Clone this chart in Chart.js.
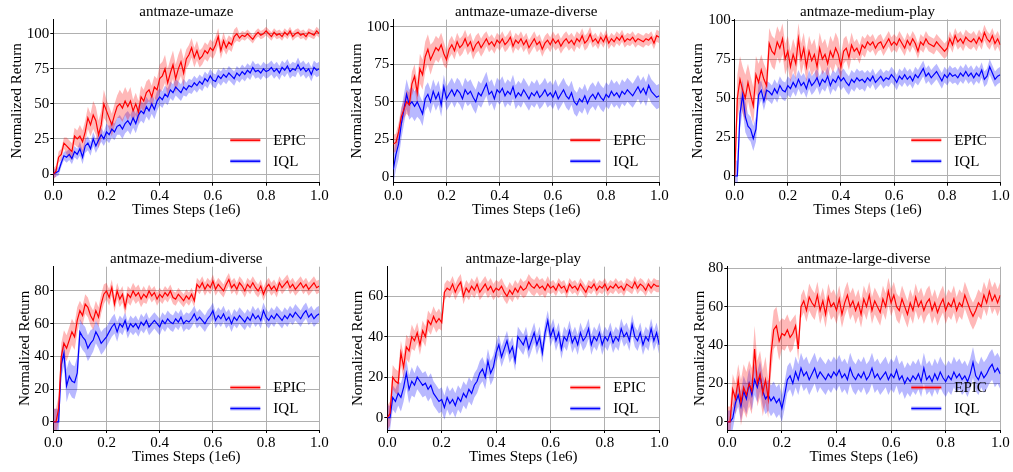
<!DOCTYPE html>
<html>
<head>
<meta charset="utf-8">
<script src="https://cdn.jsdelivr.net/npm/chart.js@4.4.0/dist/chart.umd.min.js"></script>
<style>
    html, body { margin: 0; padding: 0; background: #fff; }
    body { width: 1013px; height: 472px; position: relative; overflow: hidden; }
    canvas { position: absolute; }
</style>
</head>
<body>
<canvas id="c0"></canvas>
<canvas id="c1"></canvas>
<canvas id="c2"></canvas>
<canvas id="c3"></canvas>
<canvas id="c4"></canvas>
<canvas id="c5"></canvas>
<script>
// tick labels
const xTicks = [0, 0.2, 0.4, 0.6, 0.8, 1.0];
const yTicks100 = [0, 25, 50, 75, 100];
const yTicks80 = [0, 20, 40, 60, 80];
const yTicks60 = [0, 20, 40, 60];
const titles = ['antmaze-umaze', 'antmaze-umaze-diverse', 'antmaze-medium-play',
                'antmaze-medium-diverse', 'antmaze-large-play', 'antmaze-large-diverse'];

// mean returns, one value every 0.01e6 steps (101 values)
const umazeEpic = [0,2,12,14,22,20,18,16,27,25, 27,23,30,40,35,42,38,28,35,50, 45,40,35,42,48,50,47,52,48,52,
    45,50,44,55,52,58,60,55,62,60, 68,70,75,65,72,78,68,75,80,72, 82,85,90,83,88,82,84,88,86,90,
    88,92,98,88,95,90,94,92,98,100, 97,99,98,100,98,96,99,101,99,100, 102,100,98,101,99,100,98,101,99,102,
    98,100,101,99,100,98,101,100,99,102,100];
const umazeIql = [0,1,2,8,13,12,14,11,16,14, 18,12,20,22,18,25,20,24,28,25, 30,28,32,30,34,35,32,36,38,35,
    40,36,42,45,43,48,45,50,46,52, 55,53,57,55,60,58,62,60,58,62, 60,63,62,65,63,66,64,68,66,70,
    67,66,70,68,71,69,72,70,68,72, 70,73,71,74,72,76,73,74,72,75, 73,74,76,73,75,72,76,74,77,73,
    75,74,78,74,76,73,75,71,76,74,75];

const umazeDivEpic = [22,23,30,40,45,50,48,62,67,56, 72,68,80,85,78,82,86,84,88,82, 78,85,88,84,90,86,88,92,87,90,
    84,88,90,86,89,92,88,90,87,91, 89,92,88,90,93,87,91,89,92,88, 91,86,89,92,88,90,85,89,91,88,
    92,89,91,87,90,92,89,91,88,92, 90,94,89,91,95,90,92,89,93,90, 94,89,92,90,93,91,94,90,92,91,
    93,90,92,91,90,92,91,93,89,94,93];
const umazeDivIql = [5,15,22,35,45,55,48,50,47,50, 46,42,52,55,50,57,52,56,48,60, 52,55,58,54,58,56,52,58,55,57,
    53,50,56,54,58,62,55,57,52,58, 56,59,54,57,55,60,53,56,54,58, 55,52,56,54,57,53,55,58,54,56,
    53,57,52,55,58,54,52,56,50,48, 52,50,54,49,53,55,52,56,53,51, 55,53,57,54,56,53,57,55,58,56,
    54,57,60,56,59,55,61,57,55,53,54];

const mediumPlayEpic = [0,50,62,55,50,60,52,45,65,60, 68,62,58,85,80,78,86,82,88,75, 80,70,78,72,88,75,82,70,80,74,
    78,70,82,75,78,72,80,76,82,78, 70,80,82,76,84,80,82,78,84,82, 86,84,86,82,85,86,82,85,88,84,
    86,84,88,85,82,87,84,88,85,80, 86,84,88,85,84,83,86,84,82,80, 82,88,84,90,86,88,85,89,87,86,
    88,85,89,86,92,88,86,90,85,88,84];
const mediumPlayIql = [0,0,40,52,38,32,30,24,30,52, 55,48,55,54,52,56,53,58,55,54, 58,56,60,57,62,58,60,56,62,58,
    60,63,58,62,60,64,58,62,60,64, 61,63,60,58,62,60,63,61,62,60, 63,61,64,60,62,64,61,63,62,65,
    63,60,64,62,65,62,64,61,65,63, 66,69,64,66,63,65,67,64,61,65, 63,66,64,65,63,66,64,67,64,66,
    63,66,64,68,62,64,70,66,62,64,65];

const mediumDivEpic = [0,0,8,40,48,45,50,55,52,62, 68,65,72,70,65,62,68,64,72,78, 80,76,82,72,80,75,78,70,78,76,
    80,77,79,75,78,76,80,77,79,75, 78,76,79,77,80,76,75,78,76,74, 77,75,78,74,84,82,85,81,84,82,
    86,81,84,82,80,84,87,82,84,81, 85,83,80,84,82,85,82,80,83,78, 82,84,81,83,80,85,82,84,86,82,
    84,81,83,85,82,84,81,83,85,82,83];
const mediumDivIql = [0,0,0,35,42,22,28,25,24,30, 55,52,50,45,48,50,55,52,48,50, 52,55,58,60,55,60,58,62,56,60,
    58,60,57,61,59,62,58,60,62,60, 58,62,60,63,61,60,63,61,64,60, 62,61,63,66,62,64,62,60,63,65,
    68,62,65,63,66,62,64,60,64,62, 65,63,61,64,62,66,63,65,62,68, 64,62,65,63,66,64,62,65,63,66,
    64,67,65,63,66,68,64,66,63,65,66];

const largePlayEpic = [0,2,20,18,17,32,25,35,33,40, 38,42,36,43,40,48,46,50,47,49, 47,62,64,63,66,62,65,67,60,64,
    62,65,63,66,62,64,66,63,65,62, 64,63,65,62,60,63,61,64,62,65, 63,64,67,65,64,66,64,65,63,66,
    64,65,63,66,64,65,62,66,64,65, 63,66,64,62,65,64,66,63,65,64, 66,63,65,64,66,64,65,63,66,65,
    64,67,64,66,65,63,66,64,66,65,65];
const largePlayIql = [0,0,10,8,12,10,15,22,14,18, 16,20,18,16,17,14,16,12,10,8, 9,5,10,7,9,6,10,8,12,10,
    14,12,16,18,22,24,20,28,22,25, 32,36,30,34,38,32,35,28,40,38, 36,40,34,38,42,36,40,32,42,48,
    40,44,38,42,34,40,38,43,37,40, 36,42,38,40,44,36,40,38,42,36, 40,38,42,37,40,38,44,40,42,38,
    46,40,38,42,36,40,38,44,38,42,36];

const largeDivEpic = [0,0,17,12,22,10,18,14,20,16, 38,20,25,15,22,12,35,48,50,42, 46,45,48,44,46,50,38,60,63,58,
    65,62,60,66,58,63,56,65,60,62, 58,64,56,62,66,60,63,58,62,56, 64,60,66,58,63,60,57,64,60,68,
    62,66,60,58,64,60,56,62,58,65, 60,63,58,62,64,58,62,57,61,64, 58,62,60,64,58,62,60,66,62,58,
    55,58,62,60,66,62,68,63,66,62,66];
const largeDivIql = [0,0,2,10,14,8,16,12,20,14, 22,18,24,16,12,14,11,13,10,12, 7,14,22,24,20,26,22,28,24,26,
    22,25,28,23,26,24,22,25,23,26, 24,27,23,25,22,28,24,22,25,23, 26,22,24,28,23,25,22,24,26,22,
    25,23,27,22,24,20,23,21,24,22, 25,21,28,22,24,21,25,22,26,23, 21,24,22,26,23,25,22,24,21,25,
    31,24,22,26,23,25,28,30,26,28,25];

// half-width of the shaded band, one value per 0.05e6 steps (21 values)
const umazeEpicBand = [4,6,8,10,8,10,8,8,10,10,7,6,6,5,3,3,3,3,3,3,3];
const umazeIqlBand = [3,4,5,5,6,7,7,7,6,6,5,5,5,5,5,5,5,5,5,5,5];
const umazeDivEpicBand = [6,8,10,8,6,6,6,5,5,5,5,5,5,5,5,4,4,4,4,4,4];
const umazeDivIqlBand = [10,10,8,8,8,8,8,8,8,8,8,8,8,8,8,8,8,8,8,8,8];
const mediumPlayEpicBand = [15,12,10,10,10,10,10,10,8,6,5,5,5,5,5,5,5,5,5,5,5];
const mediumPlayIqlBand = [10,8,6,6,6,6,6,6,6,6,5,5,5,5,5,5,5,5,5,5,5];
const mediumDivEpicBand = [8,8,6,6,5,5,5,4,4,4,4,4,4,4,4,4,4,4,4,4,4];
const mediumDivIqlBand = [8,10,8,7,6,5,5,5,5,5,5,5,5,5,5,5,5,5,5,5,5];
const largePlayEpicBand = [6,6,5,5,4,4,4,4,4,4,4,4,3,3,3,3,3,3,3,3,3];
const largePlayIqlBand = [6,7,6,6,6,6,6,6,5,5,5,5,5,5,5,5,5,5,5,5,5];
const largeDivEpicBand = [8,12,12,10,8,6,7,7,7,7,7,7,7,7,7,7,7,7,7,7,7];
const largeDivIqlBand = [6,8,8,8,7,8,8,8,8,8,8,8,8,8,8,8,8,8,8,8,8];

const steps = umazeEpic.map((_, i) => i / 100);

const FONT = '"Liberation Serif", "Times New Roman", serif';
const RED = '#ff0000';
const BLUE = '#0000ff';
const RED_FILL = 'rgba(255, 0, 0, 0.28)';
const BLUE_FILL = 'rgba(0, 0, 255, 0.28)';

// plot rect is [left, top, right, bottom] in page pixels
const panels = [
    { epic: umazeEpic, epicBand: umazeEpicBand, iql: umazeIql, iqlBand: umazeIqlBand,
      yMin: -6.2, yMax: 110.3, yTicks: yTicks100, left: 0, top: 0, width: 333, plot: [53.3, 19.3, 319.3, 182.7], labelGap: 36.6 },
    { epic: umazeDivEpic, epicBand: umazeDivEpicBand, iql: umazeDivIql, iqlBand: umazeDivIqlBand,
      yMin: -3.8, yMax: 104.7, yTicks: yTicks100, left: 340, top: 0, width: 333, plot: [393.3, 19.6, 659.3, 182.7], labelGap: 36.6 },
    { epic: mediumPlayEpic, epicBand: mediumPlayEpicBand, iql: mediumPlayIql, iqlBand: mediumPlayIqlBand,
      yMin: -4.3, yMax: 100.5, yTicks: yTicks100, left: 673, top: 0, width: 340, plot: [734.7, 19.3, 1000.3, 182.7], labelGap: 36.7 },
    { epic: mediumDivEpic, epicBand: mediumDivEpicBand, iql: mediumDivIql, iqlBand: mediumDivIqlBand,
      yMin: -4.9, yMax: 94.8, yTicks: yTicks80, left: 0, top: 236, width: 333, plot: [53.3, 266.7, 319.3, 430], labelGap: 28.3 },
    { epic: largePlayEpic, epicBand: largePlayEpicBand, iql: largePlayIql, iqlBand: largePlayIqlBand,
      yMin: -6.1, yMax: 74.6, yTicks: yTicks60, left: 340, top: 236, width: 333, plot: [387.3, 266.7, 659.3, 430], labelGap: 29 },
    { epic: largeDivEpic, epicBand: largeDivEpicBand, iql: largeDivIql, iqlBand: largeDivIqlBand,
      yMin: -4.2, yMax: 80.8, yTicks: yTicks80, left: 673, top: 236, width: 340, plot: [727.3, 266.7, 1000.3, 430], labelGap: 27.6 }
];
const PANEL_H = 236;

function toPoints(vals) {
    return vals.map((v, i) => ({ x: steps[i], y: v }));
}

function bandPoints(vals, spread, sign) {
    return vals.map((v, i) => ({ x: steps[i], y: v + sign * spread[Math.floor(i / 5)] }));
}

// title, axis labels and legend drawn at fixed offsets from the plot area
const panelText = {
    id: 'panelText',
    afterDraw(chart, args, opts) {
        const ctx = chart.ctx;
        const a = chart.chartArea;
        const cx = (a.left + a.right) / 2;
        ctx.save();
        ctx.fillStyle = '#000';
        ctx.font = '15px ' + FONT;
        ctx.textAlign = 'center';
        ctx.textBaseline = 'middle';
        ctx.fillText(opts.title, cx, a.top - 7.5);
        ctx.fillText('Times Steps (1e6)', cx, a.bottom + 27);

        ctx.save();
        ctx.translate(a.left - opts.labelGap, (a.top + a.bottom) / 2);
        ctx.rotate(-Math.PI / 2);
        ctx.fillText('Normalized Return', 0, 0);
        ctx.restore();

        const items = [['EPIC', RED, RED_FILL, a.bottom - 42.5], ['IQL', BLUE, BLUE_FILL, a.bottom - 21.5]];
        items.forEach(([name, col, fill, y]) => {
            ctx.fillStyle = fill;
            ctx.fillRect(a.right - 89, y - 2, 30, 4);
            ctx.strokeStyle = col;
            ctx.lineWidth = 1.5;
            ctx.beginPath();
            ctx.moveTo(a.right - 89, y);
            ctx.lineTo(a.right - 59, y);
            ctx.stroke();
            ctx.fillStyle = '#000';
            ctx.textAlign = 'left';
            ctx.fillText(name, a.right - 46, y + 1);
        });
        ctx.restore();
    }
};

panels.forEach((p, k) => {
    const canvas = document.getElementById('c' + k);
    canvas.width = p.width;
    canvas.height = PANEL_H;
    canvas.style.left = p.left + 'px';
    canvas.style.top = p.top + 'px';
    canvas.style.width = p.width + 'px';
    canvas.style.height = PANEL_H + 'px';

    const [L, T, R, B] = p.plot;
    const band = { borderWidth: 0, pointRadius: 0, tension: 0 };

    new Chart(canvas, {
        type: 'line',
        data: {
            datasets: [
                Object.assign({ data: bandPoints(p.epic, p.epicBand, -1), fill: false, order: 3 }, band),
                Object.assign({ data: bandPoints(p.epic, p.epicBand, 1), fill: '-1', backgroundColor: RED_FILL, order: 3 }, band),
                Object.assign({ data: bandPoints(p.iql, p.iqlBand, -1), fill: false, order: 4 }, band),
                Object.assign({ data: bandPoints(p.iql, p.iqlBand, 1), fill: '-1', backgroundColor: BLUE_FILL, order: 4 }, band),
                { label: 'EPIC', data: toPoints(p.epic), borderColor: RED, borderWidth: 1.2, pointRadius: 0, tension: 0, fill: false, order: 1 },
                { label: 'IQL', data: toPoints(p.iql), borderColor: BLUE, borderWidth: 1.2, pointRadius: 0, tension: 0, fill: false, order: 2 }
            ]
        },
        options: {
            responsive: false,
            animation: false,
            devicePixelRatio: 1,
            events: [],
            layout: {
                padding: { left: 0, bottom: 0, top: T - p.top, right: p.left + p.width - R }
            },
            plugins: {
                legend: { display: false },
                tooltip: { enabled: false },
                panelText: { title: titles[k], labelGap: p.labelGap }
            },
            scales: {
                x: {
                    type: 'linear',
                    min: 0,
                    max: 1,
                    bounds: 'data',
                    afterBuildTicks: s => { s.ticks = xTicks.map(v => ({ value: v })); },
                    afterFit: s => { s.height = p.top + PANEL_H - B; },
                    ticks: {
                        font: { family: FONT, size: 15 },
                        color: '#000',
                        padding: 1,
                        maxRotation: 0,
                        autoSkip: false,
                        callback: v => v.toFixed(1)
                    },
                    grid: { color: '#b0b0b0', lineWidth: 1, tickLength: 3, tickColor: '#000' },
                    border: { display: true, color: '#000', width: 1 }
                },
                y: {
                    type: 'linear',
                    min: p.yMin,
                    max: p.yMax,
                    bounds: 'data',
                    afterBuildTicks: s => { s.ticks = p.yTicks.map(v => ({ value: v })); },
                    afterFit: s => { s.width = L - p.left; },
                    ticks: {
                        font: { family: FONT, size: 15 },
                        color: '#000',
                        padding: 1,
                        autoSkip: false,
                        callback: v => String(v)
                    },
                    grid: { color: '#b0b0b0', lineWidth: 1, tickLength: 3, tickColor: '#000' },
                    border: { display: true, color: '#000', width: 1 }
                }
            }
        },
        plugins: [panelText]
    });
});
</script>
</body>
</html>
